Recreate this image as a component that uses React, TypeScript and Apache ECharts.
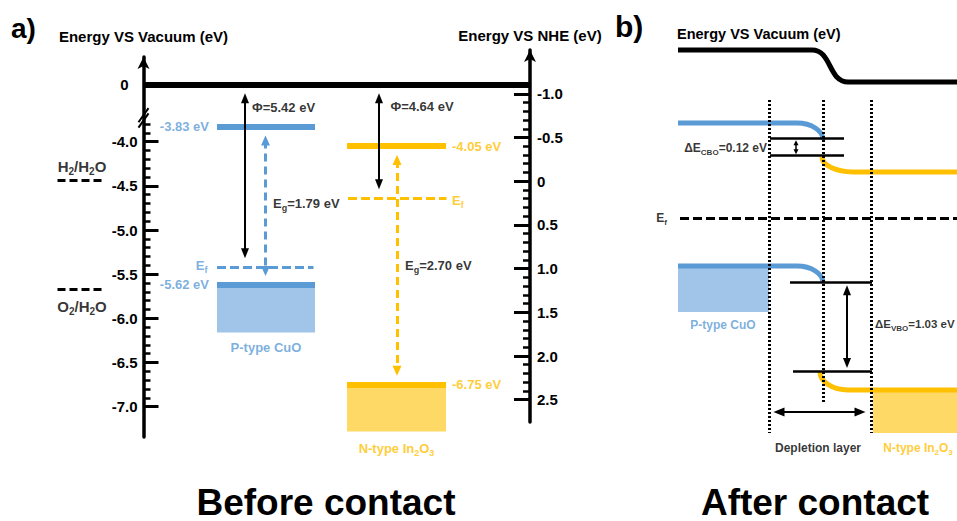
import React, { useEffect, useRef } from 'react';
import * as echarts from 'echarts';

// ---------------- data: energy levels vs vacuum (eV) ----------------
const MATERIALS = ['P-type CuO', 'N-type In2O3'];
const CB_LEVELS = [-3.83, -4.05];
const VB_LEVELS = [-5.62, -6.75];
const FERMI_LEVELS = [-5.42, -4.64];
const WORK_FUNCTIONS = [5.42, 4.64];
const BAND_GAPS = [1.79, 2.7];
const REDOX_NAMES = ['H2/H2O', 'O2/H2O'];
const REDOX_LEVELS = [-4.44, -5.67];
const VAC_TICK_LABELS = [-7.0, -6.5, -6.0, -5.5, -5.0, -4.5, -4.0];
const NHE_TICK_LABELS = [-1.0, -0.5, 0, 0.5, 1.0, 1.5, 2.0, 2.5];
const CBO_VALUE = 0.12;
const VBO_VALUE = 1.03;

// after contact: schematic band profiles (arbitrary units, Ef = 0)
// each point: [x, level, tangent direction at the point ('h' horizontal / 'v' vertical)]
const B_VACUUM = [[0, 168, 'h'], [134, 168, 'h'], [170, 136, 'h'], [279, 136, 'h']];
const B_CUO_CB = [[0, 95, 'h'], [119, 95, 'h'], [145, 78, 'v']];
const B_IN_CB = [[144, 61, 'v'], [175, 46, 'h'], [279, 46, 'h']];
const B_CUO_VB = [[0, -48, 'h'], [119, -48, 'h'], [145, -65, 'v']];
const B_IN_VB = [[142, -154, 'v'], [170, -172, 'h'], [279, -172, 'h']];
const B_CBO_LEVELS = [79.3, 62.3];
const B_VBO_LEVELS = [-64.3, -153];
const B_BAND_BOTTOM = [-94, -215];

// ---------------- style / layout ----------------
const FONT = "'Liberation Sans', Arial, Helvetica, sans-serif";
const BLACK = '#000000';
const BLUE = '#5B9BD5';
const BLUE_FILL = '#A0C5E9';
const ORANGE = '#FFC000';
const ORANGE_FILL = '#FFD966';
const COLORS = [BLUE, ORANGE];
const FILLS = [BLUE_FILL, ORANGE_FILL];

const VAC_MIN = -7.343;
const VAC_MAX = -3.041;
const VAC_ZERO_POS = -3.35; // where vacuum level 0 is drawn above the axis break
const BAND_X = [[73.5, 171.5], [203.5, 302.5]];
const EF_X = [[73.5, 170], [204.5, 303]];
const PHI_X = [101.5, 235.5];
const EG_X = [122, 253.5];
const BAND_DEPTH = [0.54, 0.53];
const REDOX_X = [-86, -38.5];
const TIP_GAP = 0.1;
const HALF_HEAD = 0.057;
const BEND = 0.55;

const VAC_MINOR: number[] = [];
for (let i = -69; i <= -38; i++) if (i % 5 !== 0) VAC_MINOR.push(i / 10);
const NHE_MINOR: number[] = [];
for (let i = -9; i <= 24; i++) if (i % 5 !== 0) NHE_MINOR.push(i / 10);

function rich(color: string, size: number) {
  return {
    m: { color, fontSize: size, fontWeight: 'bold', fontFamily: FONT, lineHeight: size + 5 },
    s: {
      color,
      fontSize: Math.round(size * 0.68),
      fontWeight: 'bold',
      fontFamily: FONT,
      verticalAlign: 'bottom',
      lineHeight: size + 5,
    },
  };
}

function lbl(x: number, y: number, text: string, color: string, size: number, align: string) {
  return { value: [x, y], label: { formatter: text, align, rich: rich(color, size) } };
}

function seg(a: number[], b: number[], style: any, sym: string[] = ['none', 'none'], size: number[] = [8, 10]) {
  return [
    { coord: a, symbol: sym[0], symbolSize: size, lineStyle: style },
    { coord: b, symbol: sym[1], symbolSize: size },
  ];
}

function rectRenderer(fills: string[]) {
  return (params: any, api: any) => {
    const p0 = api.coord([api.value(0), api.value(2)]);
    const p1 = api.coord([api.value(1), api.value(3)]);
    return {
      type: 'rect',
      shape: { x: p0[0], y: p0[1], width: p1[0] - p0[0], height: p1[1] - p0[1] },
      style: { fill: fills[api.value(4)] },
    };
  };
}

function curveSeries(points: any[], color: string) {
  return {
    type: 'custom',
    xAxisIndex: 2,
    yAxisIndex: 4,
    z: 3,
    silent: true,
    data: points.map((p) => [p[0], p[1]]),
    renderItem: (params: any, api: any) => {
      if (params.dataIndex !== 0) return null;
      const px = points.map((p) => api.coord([p[0], p[1]]));
      const children: any[] = [];
      for (let i = 0; i < points.length - 1; i++) {
        const a = px[i];
        const b = px[i + 1];
        const ta = points[i][2];
        const tb = points[i + 1][2];
        if (ta === 'h' && tb === 'h' && Math.abs(a[1] - b[1]) < 0.01) {
          children.push({
            type: 'line',
            shape: { x1: a[0], y1: a[1], x2: b[0], y2: b[1] },
            style: { stroke: color, lineWidth: 5, lineCap: 'butt' },
          });
        } else {
          const c1 = ta === 'h' ? [a[0] + BEND * (b[0] - a[0]), a[1]] : [a[0], a[1] + BEND * (b[1] - a[1])];
          const c2 = tb === 'h' ? [b[0] - BEND * (b[0] - a[0]), b[1]] : [b[0], b[1] - BEND * (b[1] - a[1])];
          children.push({
            type: 'bezierCurve',
            shape: { x1: a[0], y1: a[1], x2: b[0], y2: b[1], cpx1: c1[0], cpy1: c1[1], cpx2: c2[0], cpy2: c2[1] },
            style: { stroke: color, lineWidth: 5, fill: 'none', lineCap: 'butt' },
          });
        }
      }
      return { type: 'group', children };
    },
  };
}

const sub = (main: string, s: string, rest = '') => `{m|${main}}{s|${s}}` + (rest ? `{m|${rest}}` : '');

function labelHost(xi: number, yi: number, labels: any[], lines: any[]) {
  return {
    type: 'scatter',
    xAxisIndex: xi,
    yAxisIndex: yi,
    z: 4,
    symbolSize: 0,
    silent: true,
    clip: false,
    label: { show: true, position: 'inside', verticalAlign: 'middle' },
    data: labels,
    markLine: {
      silent: true,
      animation: false,
      symbol: ['none', 'none'],
      label: { show: false },
      emphasis: { disabled: true },
      data: lines,
    },
  };
}

function buildOption(): any {
  const solid = (color: string, width: number) => ({ color, width, type: 'solid', cap: 'butt' });
  const dashed = (color: string, width: number, dash: number[]) => ({ color, width, type: dash, cap: 'butt' });
  const tri = ['triangle', 'triangle'];

  // ---------- panel a lines ----------
  const aLines: any[] = [];
  aLines.push(seg([0, VAC_ZERO_POS], [386.5, VAC_ZERO_POS], solid(BLACK, 6)));
  for (let i = 0; i < 2; i++) {
    aLines.push(seg([BAND_X[i][0], CB_LEVELS[i]], [BAND_X[i][1], CB_LEVELS[i]], solid(COLORS[i], 6)));
    aLines.push(seg([BAND_X[i][0], VB_LEVELS[i]], [BAND_X[i][1], VB_LEVELS[i]], solid(COLORS[i], 6)));
    aLines.push(seg([EF_X[i][0], FERMI_LEVELS[i]], [EF_X[i][1], FERMI_LEVELS[i]], dashed(COLORS[i], 3, [9, 4])));
    aLines.push(
      seg(
        [PHI_X[i], VAC_ZERO_POS - TIP_GAP - HALF_HEAD],
        [PHI_X[i], -WORK_FUNCTIONS[i] + TIP_GAP + HALF_HEAD],
        solid(BLACK, 2),
        tri,
        [8, 10]
      )
    );
    aLines.push(
      seg(
        [EG_X[i], CB_LEVELS[i] - TIP_GAP - HALF_HEAD],
        [EG_X[i], CB_LEVELS[i] - BAND_GAPS[i] + TIP_GAP + HALF_HEAD],
        dashed(COLORS[i], 3, [8, 5]),
        tri,
        [9, 10]
      )
    );
  }

  // redox levels and axis-break marks (left strip)
  const rLines: any[] = [];
  for (let i = 0; i < 2; i++) {
    rLines.push(seg([REDOX_X[0], REDOX_LEVELS[i]], [REDOX_X[1], REDOX_LEVELS[i]], dashed(BLACK, 3, [8, 4])));
  }
  rLines.push(seg([-5, -3.78], [5, -3.62], solid(BLACK, 2)));
  rLines.push(seg([-5, -3.84], [5, -3.68], solid(BLACK, 2)));
  const rLabels: any[] = [
    lbl(-61.5, REDOX_LEVELS[0] + 0.16, sub('H', '2', '/H') + '{s|2}{m|O}', BLACK, 15, 'center'),
    lbl(-61.5, REDOX_LEVELS[1] - 0.2, sub('O', '2', '/H') + '{s|2}{m|O}', BLACK, 15, 'center'),
  ];

  // ---------- panel a labels ----------
  const aLabels: any[] = [
    lbl(65.5, CB_LEVELS[0], `{m|${CB_LEVELS[0].toFixed(2)} eV}`, BLUE, 13, 'right'),
    lbl(65.5, VB_LEVELS[0], `{m|${VB_LEVELS[0].toFixed(2)} eV}`, BLUE, 13, 'right'),
    lbl(64, FERMI_LEVELS[0] + 0.02, sub('E', 'f'), BLUE, 13, 'right'),
    lbl(122.5, VB_LEVELS[0] - BAND_DEPTH[0] - 0.17, `{m|${MATERIALS[0]}}`, BLUE, 13, 'center'),
    lbl(308.5, CB_LEVELS[1], `{m|${CB_LEVELS[1].toFixed(2)} eV}`, ORANGE, 13, 'left'),
    lbl(308.5, FERMI_LEVELS[1] - 0.02, sub('E', 'f'), ORANGE, 13, 'left'),
    lbl(308.5, VB_LEVELS[1], `{m|${VB_LEVELS[1].toFixed(2)} eV}`, ORANGE, 13, 'left'),
    lbl(253, VB_LEVELS[1] - BAND_DEPTH[1] - 0.19, sub('N-type In', '2', 'O') + '{s|3}', ORANGE, 13, 'center'),
    lbl(108.5, -3.618, `{m|Φ=${WORK_FUNCTIONS[0].toFixed(2)} eV}`, BLACK, 13, 'left'),
    lbl(247, -3.607, `{m|Φ=${WORK_FUNCTIONS[1].toFixed(2)} eV}`, BLACK, 13, 'left'),
    lbl(129.5, -4.694, sub('E', 'g', `=${BAND_GAPS[0].toFixed(2)} eV`), BLACK, 13, 'left'),
    lbl(261.5, -5.407, sub('E', 'g', `=${BAND_GAPS[1].toFixed(2)} eV`), BLACK, 13, 'left'),
  ];

  // ---------- panel b lines ----------
  const bLines: any[] = [
    seg([92, B_CBO_LEVELS[0]], [166, B_CBO_LEVELS[0]], solid(BLACK, 2.5)),
    seg([92, B_CBO_LEVELS[1]], [166, B_CBO_LEVELS[1]], solid(BLACK, 2.5)),
    seg([118, B_CBO_LEVELS[0] - 4], [118, B_CBO_LEVELS[1] + 4], solid(BLACK, 1.5), tri, [5, 5]),
    seg([2, 0], [279, 0], dashed(BLACK, 3, [9, 4])),
    seg([91, 118], [91, -215], dashed(BLACK, 3, [2, 2])),
    seg([145, 118], [145, -185], dashed(BLACK, 3, [2, 2])),
    seg([193, 118], [193, -215], dashed(BLACK, 3, [2, 2])),
    seg([112, B_VBO_LEVELS[0]], [194, B_VBO_LEVELS[0]], solid(BLACK, 2.5)),
    seg([115, B_VBO_LEVELS[1]], [194, B_VBO_LEVELS[1]], solid(BLACK, 2.5)),
    seg([169, B_VBO_LEVELS[0] - 8], [169, B_VBO_LEVELS[1] + 8], solid(BLACK, 2), tri, [8, 10]),
    seg([101, -194], [182, -194], solid(BLACK, 2), tri, [9, 11]),
  ];
  const bLabels: any[] = [
    lbl(89, 70, sub('ΔE', 'CBO', `=${CBO_VALUE.toFixed(2)} eV`), BLACK, 12, 'right'),
    lbl(-11, 0, sub('E', 'f'), BLACK, 12, 'right'),
    lbl(45, -107, `{m|${MATERIALS[0]}}`, BLUE, 12, 'center'),
    lbl(197, -106, sub('ΔE', 'VBO', `=${VBO_VALUE.toFixed(2)} eV`), BLACK, 11.5, 'left'),
    lbl(140, -230, '{m|Depletion layer}', BLACK, 12, 'center'),
    lbl(240, -230, sub('N-type In', '2', 'O') + '{s|3}', ORANGE, 12, 'center'),
  ];

  const axisText = { color: BLACK, fontSize: 15, fontWeight: 'bold', fontFamily: FONT };
  const gridBase = { containLabel: false, outerBoundsMode: 'none' };

  return {
    animation: false,
    backgroundColor: '#ffffff',
    textStyle: { fontFamily: FONT },
    grid: [
      { left: 143.5, top: 57, width: 386.5, height: 380, ...gridBase },
      { left: 50, top: 50, width: 480, height: 372, ...gridBase },
      { left: 660, top: 0, width: 297, height: 521, ...gridBase },
      { left: 50, top: 57, width: 110, height: 380, ...gridBase },
    ],
    xAxis: [
      { gridIndex: 0, type: 'value', min: 0, max: 386.5, show: false },
      { gridIndex: 1, type: 'value', min: 0, max: 1, show: false },
      { gridIndex: 2, type: 'value', min: -18, max: 279, show: false },
      { gridIndex: 3, type: 'value', min: -93.5, max: 16.5, show: false },
    ],
    yAxis: [
      {
        gridIndex: 0,
        type: 'value',
        min: VAC_MIN,
        max: VAC_MAX,
        position: 'left',
        name: 'Energy VS Vacuum (eV)',
        nameLocation: 'end',
        nameGap: 13,
        nameMoveOverlap: false,
        nameTextStyle: axisText,
        axisLine: {
          show: true,
          onZero: false,
          symbol: ['none', 'arrow'],
          symbolSize: [9, 12],
          lineStyle: { color: BLACK, width: 3.5 },
        },
        axisTick: { show: true, inside: true, length: 15, customValues: VAC_TICK_LABELS, lineStyle: { color: BLACK, width: 3 } },
        axisLabel: {
          show: true,
          customValues: [...VAC_TICK_LABELS, VAC_ZERO_POS],
          margin: 6,
          ...axisText,
          formatter: (v: number) => (Math.abs(v - VAC_ZERO_POS) < 1e-9 ? '{z|0}' : v.toFixed(1)),
          rich: { z: { ...axisText, padding: [0, 9, 0, 0] } },
        },
        splitLine: { show: false },
      },
      {
        gridIndex: 0,
        type: 'value',
        min: VAC_MIN,
        max: VAC_MAX,
        position: 'left',
        axisLine: { show: false, onZero: false },
        axisTick: { show: true, inside: true, length: 7, customValues: VAC_MINOR, lineStyle: { color: BLACK, width: 2.5 } },
        axisLabel: { show: false },
        splitLine: { show: false },
      },
      {
        gridIndex: 1,
        type: 'value',
        min: -1.501,
        max: 2.755,
        inverse: true,
        position: 'right',
        name: 'Energy VS NHE (eV)',
        nameLocation: 'start',
        nameGap: 7,
        nameMoveOverlap: false,
        nameTextStyle: axisText,
        axisLine: {
          show: true,
          onZero: false,
          symbol: ['none', 'arrow'],
          symbolSize: [9, 12],
          lineStyle: { color: BLACK, width: 3.5 },
        },
        axisTick: { show: true, inside: true, length: 16, customValues: NHE_TICK_LABELS, lineStyle: { color: BLACK, width: 3 } },
        axisLabel: {
          show: true,
          customValues: NHE_TICK_LABELS,
          margin: 7,
          ...axisText,
          formatter: (v: number) => (v === 0 ? '0' : v.toFixed(1)),
        },
        splitLine: { show: false },
      },
      {
        gridIndex: 1,
        type: 'value',
        min: -1.501,
        max: 2.755,
        inverse: true,
        position: 'right',
        axisLine: { show: false, onZero: false },
        axisTick: { show: true, inside: true, length: 7, customValues: NHE_MINOR, lineStyle: { color: BLACK, width: 2.5 } },
        axisLabel: { show: false },
        splitLine: { show: false },
      },
      { gridIndex: 2, type: 'value', min: -303, max: 218, show: false },
      { gridIndex: 3, type: 'value', min: VAC_MIN, max: VAC_MAX, show: false },
    ],
    graphic: [
      { type: 'text', x: 11, y: 28, style: { text: 'a)', fill: BLACK, font: `bold 28px ${FONT}`, verticalAlign: 'middle' } },
      { type: 'text', x: 615, y: 26, style: { text: 'b)', fill: BLACK, font: `bold 30px ${FONT}`, verticalAlign: 'middle' } },
      {
        type: 'text',
        x: 677,
        y: 34,
        style: { text: 'Energy VS Vacuum (eV)', fill: BLACK, font: `bold 14.5px ${FONT}`, verticalAlign: 'middle' },
      },
      {
        type: 'text',
        x: 326,
        y: 502,
        style: { text: 'Before contact', fill: BLACK, font: `bold 37px ${FONT}`, align: 'center', verticalAlign: 'middle' },
      },
      {
        type: 'text',
        x: 815,
        y: 502,
        style: { text: 'After contact', fill: BLACK, font: `bold 37px ${FONT}`, align: 'center', verticalAlign: 'middle' },
      },
    ],
    series: [
      {
        type: 'custom',
        xAxisIndex: 0,
        yAxisIndex: 0,
        z: 1,
        silent: true,
        data: [0, 1].map((i) => [BAND_X[i][0], BAND_X[i][1], VB_LEVELS[i], VB_LEVELS[i] - BAND_DEPTH[i], i]),
        renderItem: rectRenderer(FILLS),
      },
      labelHost(0, 0, aLabels, aLines),
      labelHost(3, 5, rLabels, rLines),
      {
        type: 'custom',
        xAxisIndex: 2,
        yAxisIndex: 4,
        z: 1,
        silent: true,
        data: [
          [0, 91, B_CUO_VB[0][1], B_BAND_BOTTOM[0], 0],
          [195, 279, B_IN_VB[B_IN_VB.length - 1][1], B_BAND_BOTTOM[1], 1],
        ],
        renderItem: rectRenderer(FILLS),
      },
      curveSeries(B_VACUUM, BLACK),
      curveSeries(B_CUO_CB, BLUE),
      curveSeries(B_IN_CB, ORANGE),
      curveSeries(B_CUO_VB, BLUE),
      curveSeries(B_IN_VB, ORANGE),
      labelHost(2, 4, bLabels, bLines),
    ],
  };
}

export default function App() {
  const ref = useRef<HTMLDivElement>(null);
  useEffect(() => {
    document.body.style.margin = '0';
    const chart = echarts.init(ref.current as HTMLDivElement, null, { renderer: 'svg' });
    chart.setOption(buildOption());
    return () => chart.dispose();
  }, []);
  return <div ref={ref} style={{ width: 957, height: 521 }} />;
}
